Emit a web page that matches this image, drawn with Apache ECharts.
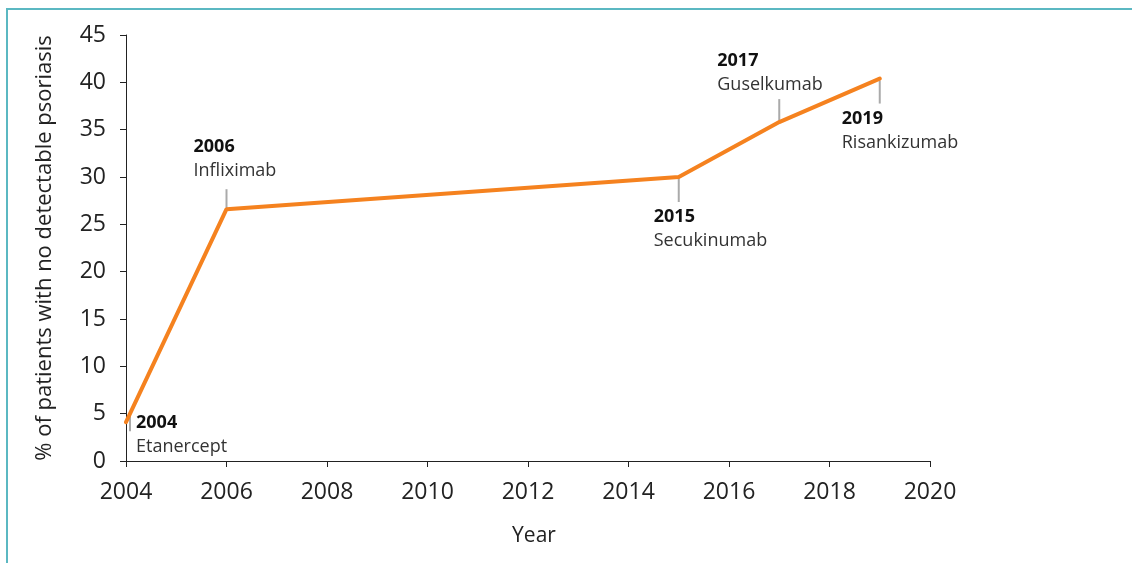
<!DOCTYPE html>
<html>
<head>
<meta charset="utf-8">
<script src="https://cdn.jsdelivr.net/npm/echarts@6/dist/echarts.min.js"></script>
<style>
  html, body { margin: 0; padding: 0; background: #fff; }
  #chart { width: 1132px; height: 563px; }
</style>
</head>
<body>
<div id="chart"></div>
<script>
// data
const years = [2004, 2006, 2015, 2017, 2019];
const pctClear = [4.1, 26.6, 30.0, 35.8, 40.4];
const drugNames = ['Etanercept', 'Infliximab', 'Secukinumab', 'Guselkumab', 'Risankizumab'];

// where each annotation sits relative to its point (px)
const LABEL_LAYOUT = [
  { lx: 4, ly0: -7, ly1: 9, tx: 10, ty: 1 },
  { lx: 0, ly0: 0, ly1: -20, tx: -33, ty: -62 },
  { lx: 0, ly0: 1, ly1: 25, tx: -25, ty: 40 },
  { lx: 0, ly0: -1, ly1: -23, tx: -62, ty: -61 },
  { lx: 0, ly0: 2, ly1: 25, tx: -38, ty: 40 },
];

const FONT = '"Open Sans", "Noto Sans", sans-serif';
const ORANGE = '#f5821f';

const chart = echarts.init(document.getElementById('chart'));

const lineData = years.map((y, i) => [y, pctClear[i]]);

const option = {
  backgroundColor: '#fff',
  animation: false,
  textStyle: { fontFamily: FONT },
  grid: { left: 126, right: 202, top: 35, bottom: 102 },
  xAxis: {
    type: 'value',
    min: 2004,
    max: 2020,
    interval: 2,
    name: 'Year',
    nameLocation: 'middle',
    nameGap: 65,
    nameTextStyle: { fontSize: 21, color: '#222', fontFamily: FONT, padding: [0, 0, 0, 12] },
    axisLine: { lineStyle: { color: '#222', width: 1 } },
    axisTick: { show: true, length: 6, lineStyle: { color: '#222' } },
    axisLabel: { fontSize: 23, color: '#222', margin: 20, fontFamily: FONT, formatter: (v) => String(v) },
    splitLine: { show: false },
  },
  yAxis: {
    type: 'value',
    min: 0,
    max: 45,
    interval: 5,
    name: '% of patients with no detectable psoriasis',
    nameLocation: 'middle',
    nameGap: 70,
    nameRotate: 90,
    nameTextStyle: { fontSize: 22, color: '#222', fontFamily: FONT },
    axisLine: { show: true, lineStyle: { color: '#222', width: 1 } },
    axisTick: { show: true, length: 6, lineStyle: { color: '#222' } },
    axisLabel: { fontSize: 23, color: '#222', margin: 20, fontFamily: FONT },
    splitLine: { show: false },
  },
  graphic: [
    {
      type: 'polyline',
      shape: { points: [[7, 563], [7, 9], [1132, 9]] },
      style: { stroke: '#5bb8c2', lineWidth: 2, fill: null },
    },
  ],
  series: [
    {
      type: 'custom',
      coordinateSystem: 'cartesian2d',
      data: lineData,
      z: 1,
      renderItem: (params, api) => {
        const i = params.dataIndex;
        const p = api.coord([api.value(0), api.value(1)]);
        const L = LABEL_LAYOUT[i];
        return {
          type: 'group',
          children: [
            {
              type: 'line',
              shape: { x1: p[0] + L.lx, y1: p[1] + L.ly0, x2: p[0] + L.lx, y2: p[1] + L.ly1 },
              style: { stroke: '#aaaaaa', lineWidth: 2 },
            },
            {
              type: 'text',
              x: p[0] + L.tx,
              y: p[1] + L.ty,
              style: {
                text: String(years[i]),
                font: 'bold 18px ' + FONT,
                fill: '#111',
                verticalAlign: 'middle',
                align: 'left',
              },
            },
            {
              type: 'text',
              x: p[0] + L.tx,
              y: p[1] + L.ty + 24,
              style: {
                text: drugNames[i],
                font: '18px ' + FONT,
                fill: '#333',
                verticalAlign: 'middle',
                align: 'left',
              },
            },
          ],
        };
      },
    },
    {
      type: 'line',
      data: lineData,
      z: 3,
      showSymbol: false,
      smooth: false,
      lineStyle: { color: ORANGE, width: 4, cap: 'round' },
    },
  ],
};

chart.setOption(option);
</script>
</body>
</html>
